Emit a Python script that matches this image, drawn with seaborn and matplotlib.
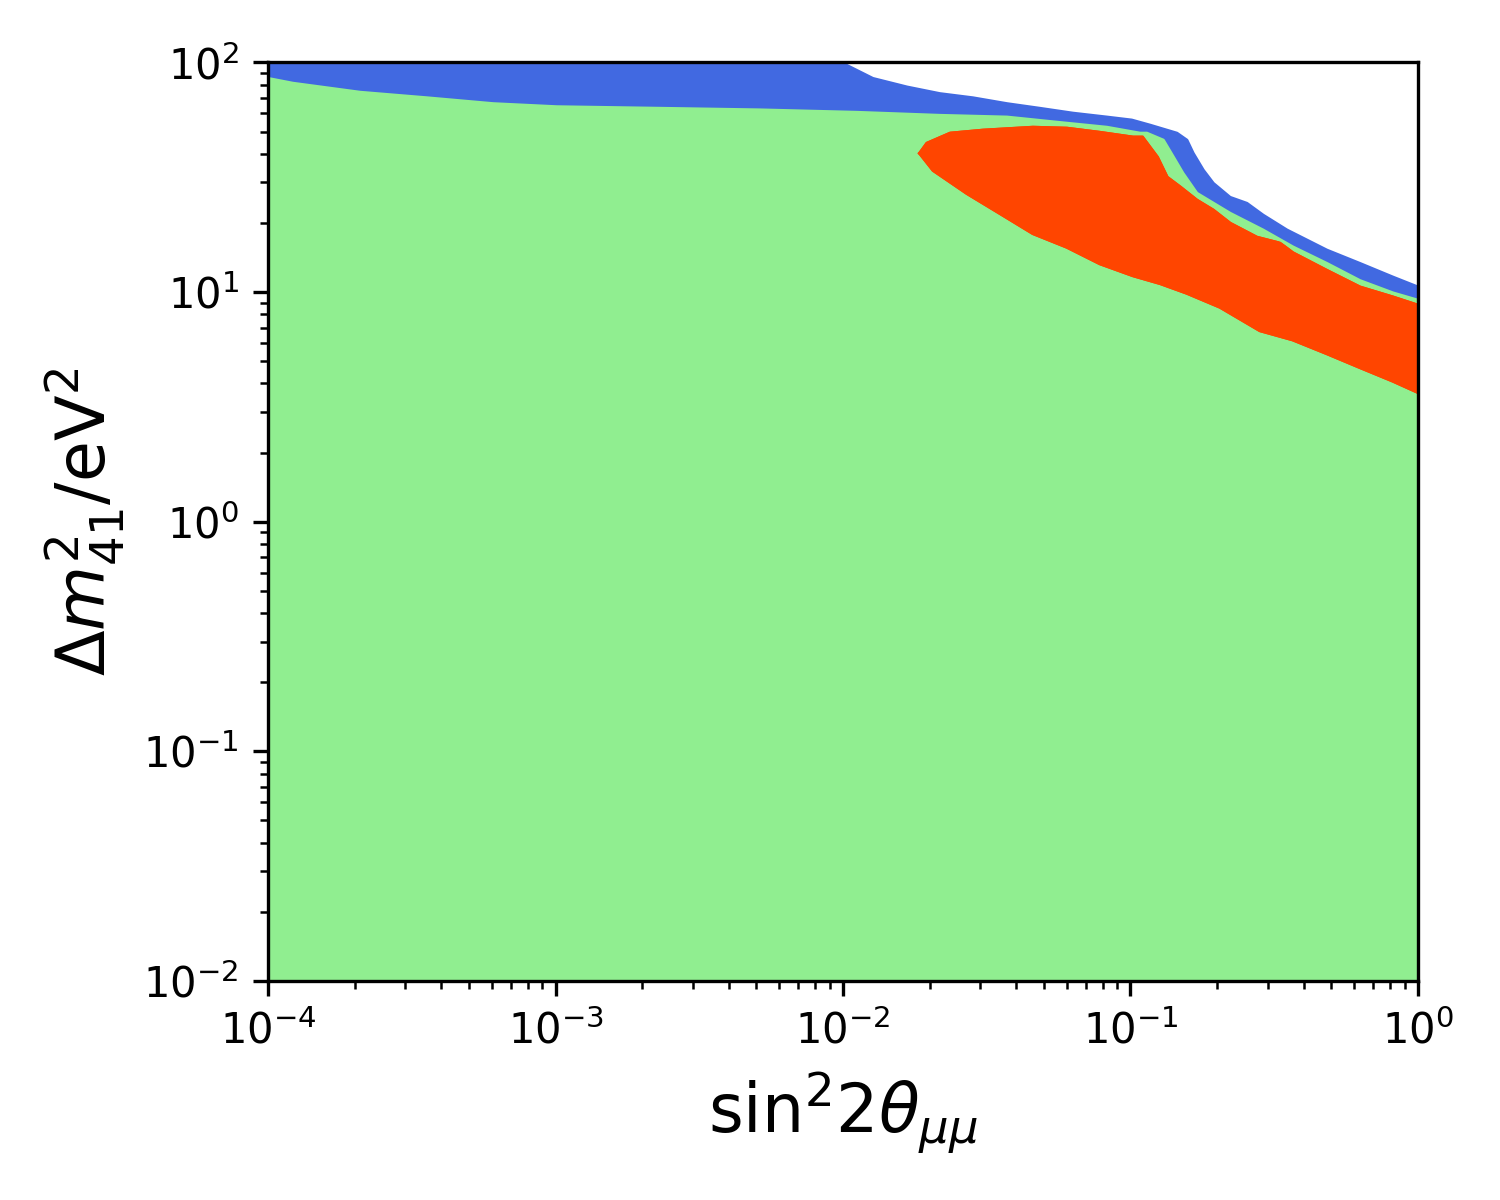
import matplotlib
matplotlib.use("Agg")
import matplotlib.pyplot as plt
import seaborn as sns

# region boundaries (x = sin^2 2theta, y = dm41^2 in eV^2)
blue_top_x = [1e-4, 9.8e-3, 0.0127, 0.0167, 0.0217, 0.0283, 0.0372, 0.0484, 0.0631,
              0.0828, 0.101, 0.117, 0.145, 0.157, 0.165, 0.179, 0.194, 0.222, 0.254,
              0.289, 0.350, 0.482, 0.628, 0.818, 1.0]
blue_top_y = [100, 100, 85, 78, 73, 70, 66, 63, 60, 57.7, 56, 53.2, 49.1, 45.8, 40.2,
              33.9, 29.7, 25.8, 24.3, 21.6, 18.6, 15.2, 13.3, 11.6, 10.5]

green_top_x = [1e-4, 1.22e-4, 2.09e-4, 3.57e-4, 6.07e-4, 1.01e-3, 2.31e-3, 5.14e-3,
               0.0112, 0.0217, 0.0372, 0.0555, 0.0828, 0.108, 0.114, 0.130, 0.141,
               0.152, 0.170, 0.222, 0.289, 0.367, 0.482, 0.628, 0.818, 1.0]
green_top_y = [85, 81, 74, 70, 66, 64, 63, 62, 60.5, 58.7, 57.7, 54.8, 52.1, 49.1, 49.1,
               45.8, 38.6, 32.9, 26.9, 22.0, 18.6, 15.7, 13.3, 11.2, 9.9, 9.2]

red_top_x = [0.0185, 0.0196, 0.0236, 0.0307, 0.0458, 0.0601, 0.0783, 0.102, 0.110,
             0.124, 0.134, 0.149, 0.170, 0.194, 0.222, 0.275, 0.331, 0.367, 0.482,
             0.628, 0.818, 1.0]
red_top_y = [40.2, 44.4, 49.1, 50.6, 52.1, 51.6, 49.5, 47.2, 47.2, 38.6, 31.6, 28.6,
             25.1, 22.7, 19.9, 17.3, 16.3, 14.8, 12.4, 10.5, 9.5, 8.75]

red_bot_x = [0.0185, 0.0206, 0.0270, 0.0352, 0.0458, 0.0601, 0.0783, 0.102, 0.127,
             0.157, 0.205, 0.282, 0.367, 0.482, 0.628, 0.818, 1.0]
red_bot_y = [40.2, 33.9, 26.9, 22.0, 18.0, 15.7, 13.3, 11.8, 10.9, 9.9, 8.6, 6.8, 6.2,
             5.4, 4.7, 4.1, 3.66]

blue = "royalblue"
green = "lightgreen"
red = "orangered"
y_floor = 1e-2

fig, ax = plt.subplots(figsize=(5, 4), dpi=300)
fig.subplots_adjust(left=0.1787, right=0.9453, top=0.948, bottom=0.1825)
ax.set_xscale("log")
ax.set_yscale("log")

# blue band
ax.fill_between(blue_top_x, blue_top_y, y_floor, color=blue, lw=0)
sns.lineplot(x=blue_top_x, y=blue_top_y, color=blue, lw=0.8, ax=ax)

# green region
ax.fill_between(green_top_x, green_top_y, y_floor, color=green, lw=0)
sns.lineplot(x=green_top_x, y=green_top_y, color=green, lw=0.8, ax=ax)

# red island
ax.fill(red_top_x + red_bot_x[::-1], red_top_y + red_bot_y[::-1],
        color=red, lw=0.8, ec=red)
sns.lineplot(x=red_top_x, y=red_top_y, color=red, lw=0.8, ax=ax)
sns.lineplot(x=red_bot_x, y=red_bot_y, color=red, lw=0.8, ax=ax)

ax.set_xlim(1e-4, 1)
ax.set_ylim(1e-2, 1e2)
ax.set_xlabel(r"$\mathrm{sin}^2 2\theta_{\mu\mu}$", fontsize=16)
ax.set_ylabel(r"$\Delta m_{41}^2$/eV$^2$", fontsize=16)
ax.tick_params(labelsize=10)

fig.savefig("out.png", dpi=300)
